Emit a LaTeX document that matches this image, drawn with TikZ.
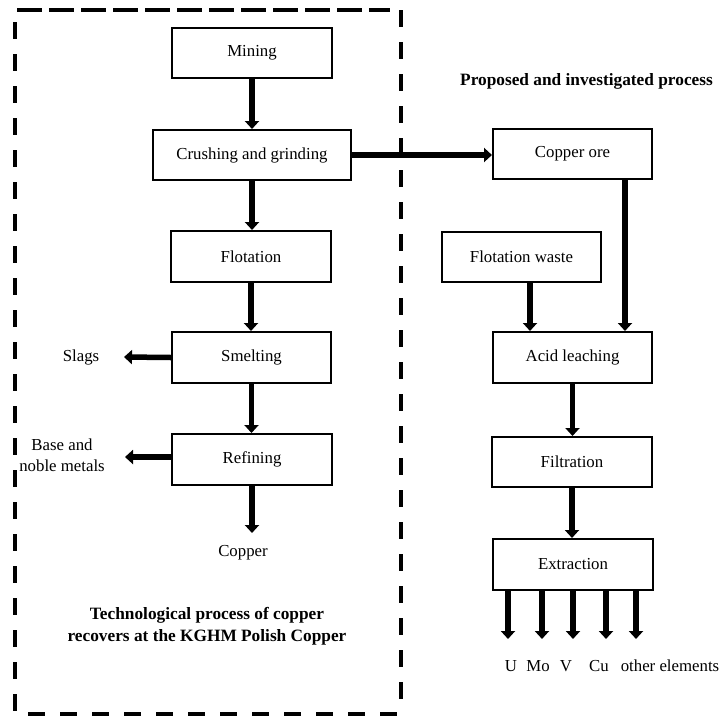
\documentclass[tikz,border=0pt]{standalone}
\usepackage{fontspec}
\setmainfont{Liberation Serif}
\usetikzlibrary{arrows.meta}
\tikzset{
  box/.style={draw, line width=2pt, minimum width=159pt, minimum height=50pt, inner sep=0pt, font=\fontsize{16.8}{19}\selectfont},
  arr/.style={line width=5.5pt, -{Triangle[width=14pt,length=8pt]}},
  lbl/.style={font=\fontsize{16.8}{19}\selectfont, inner sep=0pt},
  ttl/.style={font=\fontsize{17.3}{22}\selectfont\bfseries, inner sep=0pt, align=center},
  border/.style={line width=4pt}
}
\begin{document}
\begin{tikzpicture}[x=1pt,y=-1pt]
\useasboundingbox (0,0) rectangle (722,718);
% dashed frame
\draw[border, dash pattern=on 25pt off 7pt] (17,10) -- (390,10);
\draw[border, dash pattern=on 17pt off 15pt] (15,22) -- (15,713);
\draw[border, dash pattern=on 17pt off 15pt] (401,10) -- (401,713);
\draw[border, dash pattern=on 17pt off 15pt] (28,714) -- (400,714);

% left column
\node[box, minimum width=160pt] (mining) at (252,53) {Mining};
\node[box, minimum width=198pt] (crush) at (252,155) {Crushing and grinding};
\node[box, minimum width=160pt, minimum height=51pt] (flot) at (251,256.5) {Flotation};
\node[box, minimum height=51pt] (smelt) at (251.5,357.5) {Smelting};
\node[box, minimum width=160pt, minimum height=51pt] (refin) at (252,459.5) {Refining};

\node[lbl] (slags) at (81,357) {Slags};
\coordinate (slagsend) at (124,357);
\node[lbl, align=center, font=\fontsize{16.8}{21}\selectfont] (base) at (62,455) {Base and\\noble metals};
\coordinate (baseend) at (125,457);
\coordinate (cuend) at (252,533);
\node[lbl] (copper) at (243,553) {Copper};

\node[ttl] (ttlleft) at (207,626) {Technological process of copper\\recovers at the KGHM Polish Copper};

% right column
\node[ttl] (ttlright) at (586.5,81) {Proposed and investigated process};
\node[box] (cu) at (572.5,154) {Copper ore};
\node[box] (fw) at (521.5,257) {Flotation waste};
\node[box, minimum height=51pt] (acid) at (572.5,357.5) {Acid leaching};
\node[box, minimum width=160pt] (filt) at (572,462) {Filtration};
\node[box, minimum width=160pt, minimum height=51pt] (extr) at (573,564.5) {Extraction};

% arrows left
\draw[arr] (mining.south) -- (mining.south |- crush.north);
\draw[arr] (crush.south) -- (crush.south |- flot.north);
\draw[arr] (flot.south) -- (flot.south |- smelt.north);
\draw[arr] (smelt.south) -- (smelt.south |- refin.north);
\draw[arr] (refin.south) -- (cuend);
\draw[arr] (smelt.west) -- (slagsend);
\draw[arr] (refin.west |- baseend) -- (baseend);

% arrows right
\draw[arr] (crush.east) -- (cu.west |- crush.east);
\draw[arr] ([xshift=-28pt]cu.south east) -- ([xshift=-28pt]acid.north east);
\coordinate (fwo) at ([xshift=8.5pt]fw.south);
\draw[arr] (fwo) -- (fwo |- acid.north);
\draw[arr] (acid.south) -- (acid.south |- filt.north);
\draw[arr] (filt.south) -- (filt.south |- extr.north);

% extraction outputs
\foreach \x/\n in {508/a,542/b,573/c,606/d,636/e}{
  \coordinate (o\n) at (\x,639);
  \draw[arr] (extr.south -| o\n) -- (o\n);
}
\node[lbl] (lu) at (511,666) {U};
\node[lbl] (lmo) at (538,666) {Mo};
\node[lbl] (lv) at (566,666) {V};
\node[lbl] (lcu) at (599,666) {Cu};
\node[lbl] (loth) at (670,666) {other elements};
\end{tikzpicture}
\end{document}
